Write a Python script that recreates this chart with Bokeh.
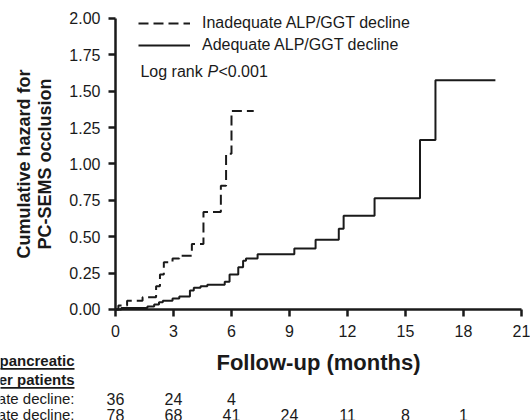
from bokeh.plotting import figure
from bokeh.models import (Range1d, FixedTicker, Legend, LegendItem, Label, LabelSet,
                          ColumnDataSource, BoxAnnotation, NumeralTickFormatter)
from bokeh.core.properties import value
from bokeh.embed import file_html
from bokeh.resources import INLINE

# ---- data ----
inad_t = [0, 0.15, 0.6, 1.4, 2.1, 2.3, 2.5, 2.95, 3.3, 3.95, 4.55, 5.45, 5.72, 6.0, 7.15]
inad_h = [0, 0.027, 0.06, 0.085, 0.16, 0.24, 0.325, 0.35, 0.37, 0.45, 0.67, 0.85, 1.07, 1.365, 1.365]

adeq_t = [0, 0.3, 1.65, 2.0, 2.25, 2.45, 2.95, 3.3, 3.85, 4.05, 4.4, 4.75, 5.65, 5.9, 6.35,
          6.6, 6.75, 7.35, 9.25, 10.35, 11.55, 11.8, 13.4, 15.75, 16.55, 19.65]
adeq_h = [0, 0.01, 0.02, 0.035, 0.05, 0.06, 0.075, 0.09, 0.13, 0.15, 0.16, 0.17, 0.19, 0.24, 0.29,
          0.335, 0.35, 0.38, 0.42, 0.48, 0.555, 0.645, 0.765, 1.165, 1.575, 1.575]

x_ticks = [0, 3, 6, 9, 12, 15, 18, 21]
y_ticks = [0, 0.25, 0.5, 0.75, 1.0, 1.25, 1.5, 1.75, 2.0]

risk_months_inad = [0, 3, 6]
risk_inad = ["36", "24", "4"]
risk_months_adeq = [0, 3, 6, 9, 12, 15, 18]
risk_adeq = ["78", "68", "41", "24", "11", "8", "1"]

label_inad = "Inadequate ALP/GGT decline"
label_adeq = "Adequate ALP/GGT decline"
header_1 = "At risk: pancreatic"
header_2 = "cancer patients"
row_1 = "Inadequate decline:"
row_2 = "Adequate decline:"

FONT = "Liberation Sans"
INK = "#1a1a1a"

# The frame fills the whole canvas; the axes are pinned at 0 so that the risk table
# below the axis can be drawn as ordinary (unclipped) annotations.
p = figure(width=530, height=420, x_range=Range1d(-5.948, 21.466), y_range=Range1d(-0.7629, 2.1237),
           output_backend="svg", toolbar_location=None)
p.min_border = 0
p.min_border_left = 0
p.min_border_right = 0
p.min_border_top = 0
p.min_border_bottom = 0
p.grid.visible = False
p.outline_line_color = None

r_inad = p.step(inad_t, inad_h, mode="after", line_color=INK, line_width=2, line_dash="10 5")
r_adeq = p.step(adeq_t, adeq_h, mode="after", line_color=INK, line_width=2)

for ax in (p.xaxis[0], p.yaxis[0]):
    ax.fixed_location = 0
    ax.axis_line_width = 2.5
    ax.axis_line_color = INK
    ax.major_tick_line_width = 2.5
    ax.major_tick_line_color = INK
    ax.major_tick_out = 7
    ax.major_tick_in = 0
    ax.minor_tick_out = 0
    ax.minor_tick_in = 0
    ax.major_label_text_font = FONT
    ax.major_label_text_font_size = "16px"
    ax.major_label_text_color = INK
    ax.axis_label_text_font = FONT
    ax.axis_label_text_font_style = "bold"
    ax.axis_label_text_color = INK

p.xaxis.bounds = (x_ticks[0], x_ticks[-1])
p.yaxis.bounds = (y_ticks[0], y_ticks[-1])
p.xaxis.ticker = FixedTicker(ticks=x_ticks)
p.yaxis.ticker = FixedTicker(ticks=y_ticks)
p.yaxis.formatter = NumeralTickFormatter(format="0.00")
p.xaxis.major_label_standoff = 9
p.yaxis.major_label_standoff = 8
p.xaxis.axis_label = "Follow-up (months)"
p.xaxis.axis_label_text_font_size = "22px"
p.xaxis.axis_label_standoff = 9
p.yaxis.axis_label = "Cumulative hazard for\nPC-SEMS occlusion"
p.yaxis.axis_label_text_font_size = "18px"
p.yaxis.axis_label_text_line_height = 1.05
p.yaxis.axis_label_standoff = 11

legend = Legend(items=[LegendItem(label=label_inad, renderers=[r_inad]),
                       LegendItem(label=label_adeq, renderers=[r_adeq])],
                location=(138, 365), orientation="vertical",
                glyph_width=52, glyph_height=20, label_height=20, spacing=2,
                padding=0, margin=0, label_standoff=12,
                label_text_font=FONT, label_text_font_size="16px", label_text_color=INK,
                border_line_color=None, background_fill_alpha=0)
p.add_layout(legend)

# Log rank annotation
lr_x, lr_y = 1.29, 1.636
p.add_layout(Label(x=lr_x, y=lr_y, text="Log rank ", text_font=FONT, text_font_size="16px",
                   text_baseline="middle", text_color=INK))
p.add_layout(Label(x=lr_x, y=lr_y, x_offset=67, text="P", text_font=FONT, text_font_size="16px",
                   text_font_style="italic", text_baseline="middle", text_color=INK))
p.add_layout(Label(x=lr_x, y=lr_y, x_offset=78, text="<0.001", text_font=FONT,
                   text_font_size="16px", text_baseline="middle", text_color=INK))

# risk table
lab_x = -2.12
y_h1, y_h2, y_r1, y_r2 = -0.35, -0.481, -0.612, -0.722
for txt, yy in ((header_1, y_h1), (header_2, y_h2)):
    p.add_layout(Label(x=lab_x, y=yy, text=txt, text_font=FONT, text_font_size="15px",
                       text_font_style="bold", text_align="right", text_baseline="middle",
                       text_color=INK))
for yy in (y_h1, y_h2):
    p.add_layout(BoxAnnotation(left=-7, right=lab_x, top=yy - 0.052, bottom=yy - 0.064,
                               fill_color=INK, fill_alpha=1, line_color=None))
for txt, yy in ((row_1, y_r1), (row_2, y_r2)):
    p.add_layout(Label(x=lab_x, y=yy, text=txt, text_font=FONT, text_font_size="15px",
                       text_align="right", text_baseline="middle", text_color=INK))

src1 = ColumnDataSource(dict(x=risk_months_inad, y=[y_r1] * len(risk_inad), t=risk_inad))
src2 = ColumnDataSource(dict(x=risk_months_adeq, y=[y_r2] * len(risk_adeq), t=risk_adeq))
for src in (src1, src2):
    p.add_layout(LabelSet(x="x", y="y", text="t", source=src, text_font=value(FONT),
                          text_font_size=value("16px"), text_align="center",
                          text_baseline="middle", text_color=INK))

open("out.html", "w").write(file_html(p, INLINE))
